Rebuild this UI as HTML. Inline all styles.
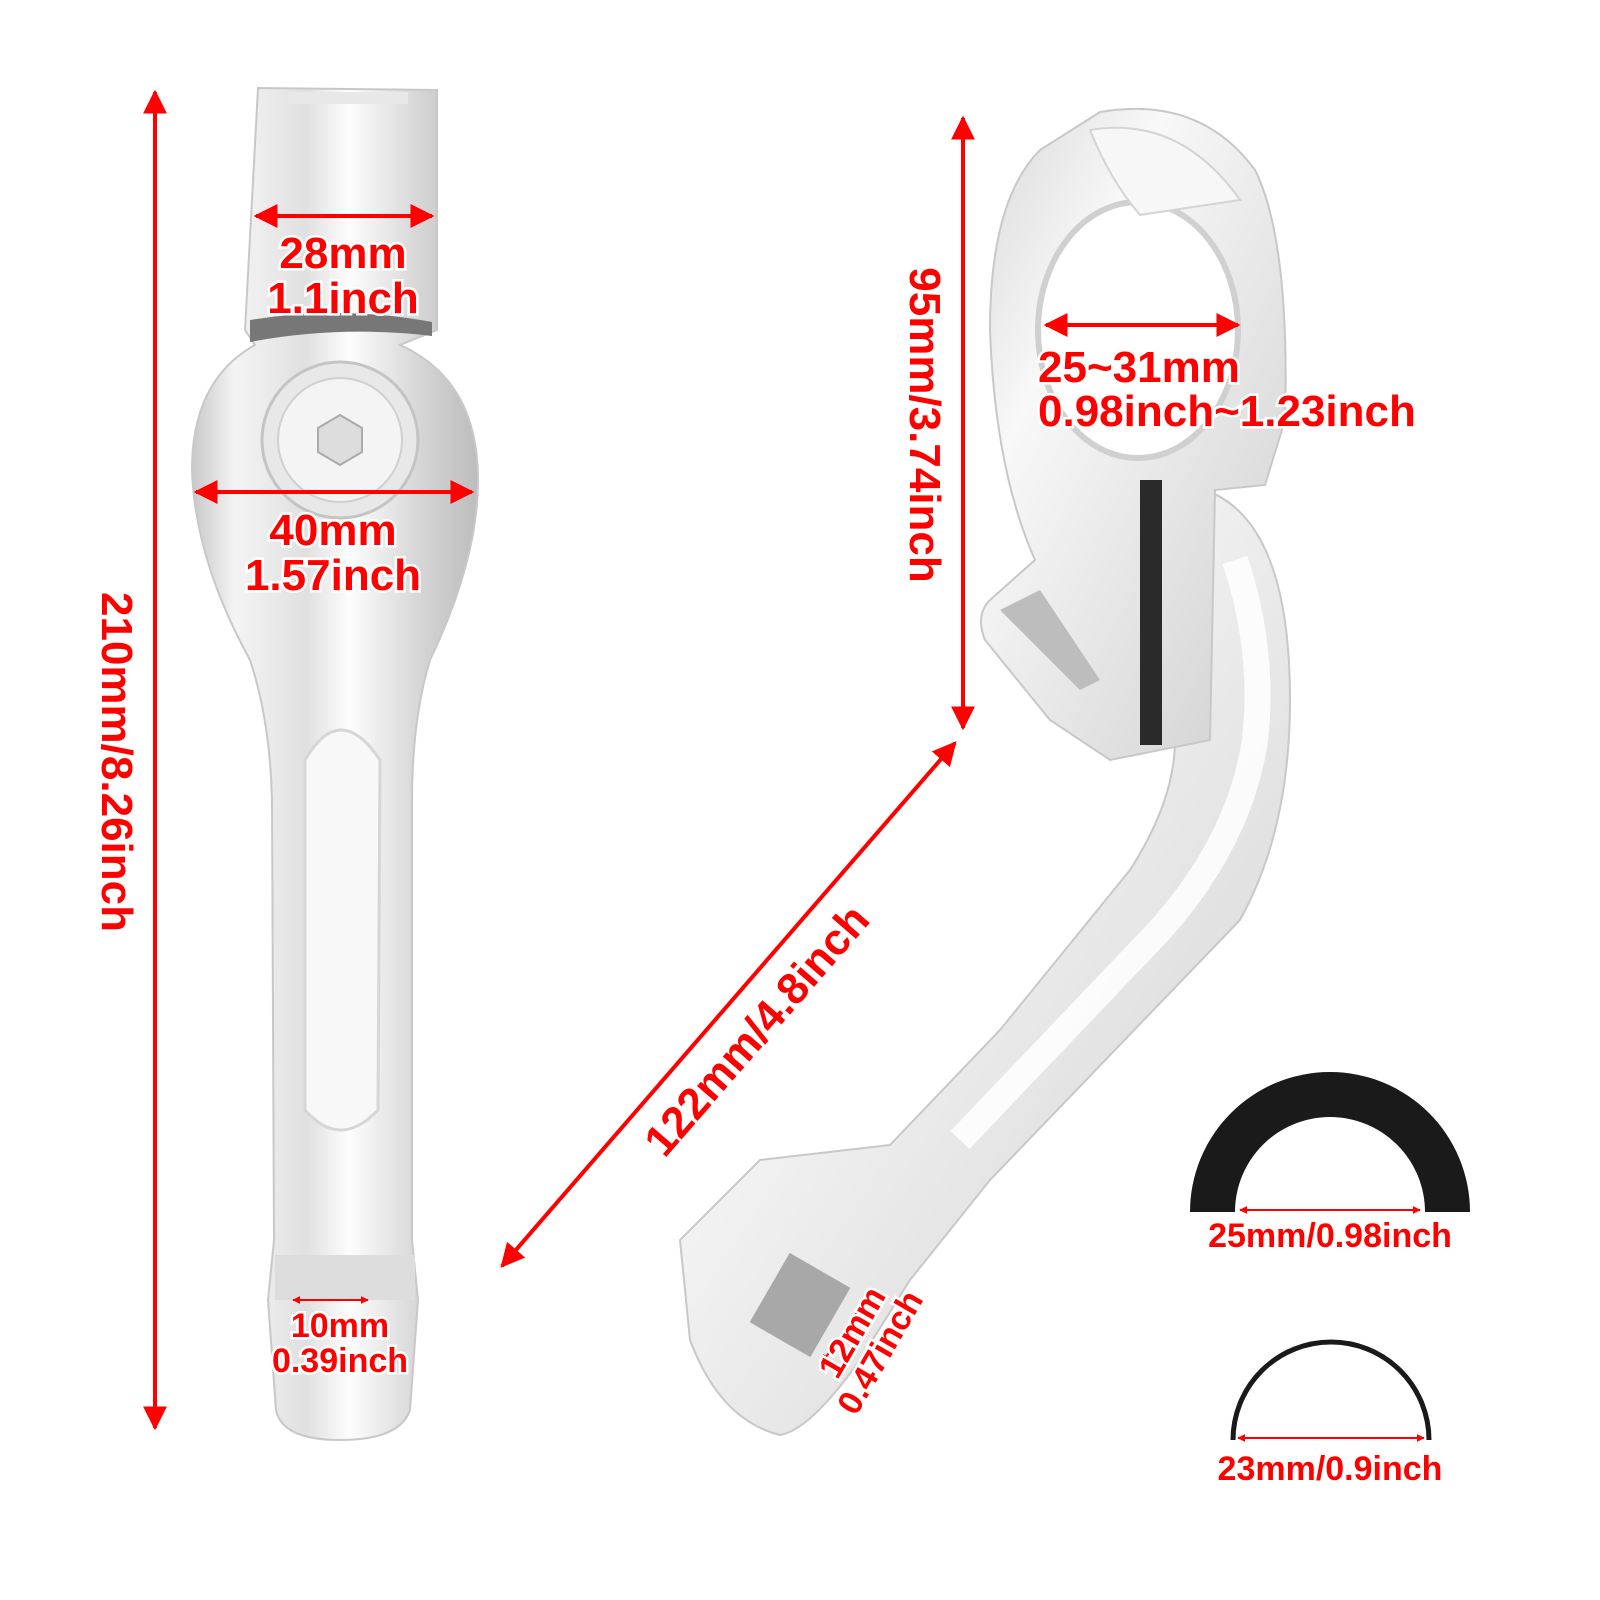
<!DOCTYPE html>
<html><head><meta charset="utf-8"><style>
html,body{margin:0;padding:0;background:#fff;}
svg{display:block;}
text{font-family:"Liberation Sans",sans-serif;font-weight:bold;fill:#f00;stroke:#fff;stroke-width:5px;paint-order:stroke;}
</style></head><body>
<svg width="1600" height="1600" viewBox="0 0 1600 1600" xmlns="http://www.w3.org/2000/svg">
<defs>
<linearGradient id="ch" x1="0" x2="1" y1="0" y2="0">
<stop offset="0" stop-color="#c8c8c8"/><stop offset="0.15" stop-color="#f4f4f4"/>
<stop offset="0.4" stop-color="#e0e0e0"/><stop offset="0.55" stop-color="#fdfdfd"/>
<stop offset="0.8" stop-color="#d5d5d5"/><stop offset="1" stop-color="#bcbcbc"/>
</linearGradient>
<linearGradient id="ch2" x1="0" x2="1" y1="0" y2="1">
<stop offset="0" stop-color="#d8d8d8"/><stop offset="0.3" stop-color="#f8f8f8"/>
<stop offset="0.6" stop-color="#e6e6e6"/><stop offset="1" stop-color="#cfcfcf"/>
</linearGradient>
<marker id="ar" viewBox="0 0 10 10" refX="9" refY="5" markerWidth="6" markerHeight="6" orient="auto-start-reverse">
<path d="M0,0 L10,5 L0,10 z" fill="#f00"/></marker>
<marker id="ars" viewBox="0 0 10 10" refX="9" refY="5" markerWidth="4" markerHeight="4" orient="auto-start-reverse">
<path d="M0,0 L10,5 L0,10 z" fill="#f00"/></marker>
</defs>

<!-- left part -->
<path d="M258,88 L437,90 L437,330 L400,345 Q478,380 478,480 Q478,560 430,660 Q412,720 412,800 L412,1240 L418,1300 L410,1410 Q400,1440 340,1440 Q282,1440 276,1410 L268,1300 L274,1240 L272,800 Q270,720 250,660 Q195,560 192,470 Q192,380 255,345 L245,330 Z" fill="url(#ch)" stroke="#c8c8c8" stroke-width="2"/>
<rect x="288" y="92" width="120" height="12" fill="#e8e8e8"/>
<path d="M250,320 Q340,305 432,322 L432,336 Q340,325 250,342Z" fill="#777"/>
<circle cx="340" cy="440" r="78" fill="#e8e8e8" stroke="#c4c4c4" stroke-width="3"/>
<circle cx="340" cy="440" r="62" fill="#f4f4f4" stroke="#d0d0d0" stroke-width="2"/>
<polygon points="340,415 362,428 362,452 340,465 318,452 318,428" fill="#ddd" stroke="#aaa" stroke-width="2"/>
<path d="M305,760 Q340,700 380,760 L378,1110 Q340,1150 305,1110 Z" fill="#f8f8f8" stroke="#d6d6d6" stroke-width="3"/>
<rect x="275" y="1255" width="140" height="45" fill="#ddd"/>

<!-- right part: arm -->
<path d="M1205,490 Q1290,520 1290,700 Q1290,830 1240,920 L990,1180 Q950,1230 910,1280 L860,1360 Q810,1430 780,1435 Q720,1420 690,1340 L680,1240 L760,1160 L890,1145 L1000,1030 L1130,870 Q1175,800 1175,740 Z" fill="url(#ch2)" stroke="#c8c8c8" stroke-width="2"/>
<path d="M1235,560 Q1265,650 1255,740 Q1240,840 1160,930 L960,1140" fill="none" stroke="#fff" stroke-width="26" opacity="0.85"/>
<!-- clamp -->
<path d="M1100,112 Q1200,95 1255,170 Q1290,240 1285,420 L1265,485 L1215,490 L1210,740 L1110,760 L1050,720 L985,640 Q975,615 990,600 L1035,560 Q995,470 990,330 Q990,200 1040,150 Z" fill="url(#ch2)" stroke="#c8c8c8" stroke-width="2"/>
<ellipse cx="1138" cy="330" rx="100" ry="128" fill="#fff" stroke="#d0d0d0" stroke-width="6"/>
<path d="M1090,130 Q1180,115 1240,200 L1140,215 Q1110,180 1090,130Z" fill="#f7f7f7" stroke="#d4d4d4" stroke-width="2"/>
<rect x="1140" y="480" width="22" height="265" fill="#2a2a2a"/>
<path d="M1000,610 L1040,590 L1100,680 L1080,690 Z" fill="#bdbdbd"/>
<rect x="765" y="1265" width="70" height="80" transform="rotate(30 800 1305)" fill="#a8a8a8"/>

<!-- black arcs -->
<path d="M1190,1212 A140,140 0 0 1 1470,1212 L1425,1212 A95,95 0 0 0 1235,1212 Z" fill="#1a1a1a"/>
<path d="M1233,1440 A98,98 0 0 1 1429,1440" fill="none" stroke="#1a1a1a" stroke-width="5"/>

<!-- arrows -->
<g stroke="#f00" stroke-width="4" fill="none">
<line x1="155" y1="92" x2="155" y2="1428" marker-start="url(#ar)" marker-end="url(#ar)"/>
<line x1="256" y1="216" x2="432" y2="216" marker-start="url(#ar)" marker-end="url(#ar)"/>
<line x1="196" y1="492" x2="472" y2="492" marker-start="url(#ar)" marker-end="url(#ar)"/>
<line x1="963" y1="118" x2="963" y2="728" marker-start="url(#ar)" marker-end="url(#ar)"/>
<line x1="1046" y1="325" x2="1238" y2="325" marker-start="url(#ar)" marker-end="url(#ar)"/>
<line x1="955" y1="743" x2="502" y2="1266" marker-start="url(#ar)" marker-end="url(#ar)"/>
</g>
<g stroke="#f00" stroke-width="2" fill="none">
<line x1="293" y1="1300" x2="368" y2="1300" marker-start="url(#ars)" marker-end="url(#ars)"/>
<line x1="862" y1="1310" x2="822" y2="1362" marker-start="url(#ars)" marker-end="url(#ars)"/>
<line x1="1240" y1="1210" x2="1420" y2="1210" marker-start="url(#ars)" marker-end="url(#ars)"/>
<line x1="1238" y1="1438" x2="1424" y2="1438" marker-start="url(#ars)" marker-end="url(#ars)"/>
</g>

<!-- labels -->
<g font-size="44" text-anchor="middle">
<text x="343" y="268">28mm</text>
<text x="343" y="313">1.1inch</text>
<text x="333" y="545">40mm</text>
<text x="333" y="590">1.57inch</text>
<text transform="translate(102,762) rotate(90)">210mm/8.26inch</text>
<text transform="translate(910,425) rotate(90)">95mm/3.74inch</text>
<text transform="translate(768,1040) rotate(-49)">122mm/4.8inch</text>
</g>
<g font-size="44">
<text x="1038" y="382">25~31mm</text>
<text x="1038" y="426">0.98inch~1.23inch</text>
</g>
<g font-size="34" text-anchor="middle">
<text x="340" y="1337">10mm</text>
<text x="340" y="1372">0.39inch</text>
<text x="1330" y="1247">25mm/0.98inch</text>
<text x="1330" y="1480">23mm/0.9inch</text>
<text transform="translate(862,1338) rotate(-60)">12mm</text>
<text transform="translate(890,1358) rotate(-60)">0.47inch</text>
</g>
</svg>
</body></html>
